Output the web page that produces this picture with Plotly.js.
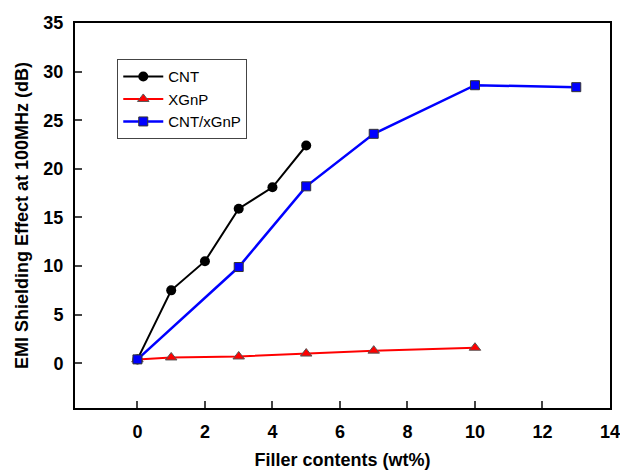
<!DOCTYPE html>
<html><head><meta charset="utf-8">
<script src="https://cdn.plot.ly/plotly-3.0.1.min.js"></script>
<style>html,body{margin:0;padding:0;background:#fff}</style>
</head><body><div id="chart" style="width:620px;height:470px"></div>
<script>
const cntX = [0, 1, 2, 3, 4, 5];
const cntY = [0.4, 7.5, 10.5, 15.9, 18.1, 22.4];
const xgnpX = [0, 1, 3, 5, 7, 10];
const xgnpY = [0.4, 0.6, 0.7, 1.0, 1.3, 1.6];
const hybX = [0, 3, 5, 7, 10, 13];
const hybY = [0.4, 9.9, 18.2, 23.6, 28.6, 28.4];
const xTicks = [0, 2, 4, 6, 8, 10, 12, 14];
const yTicks = [0, 5, 10, 15, 20, 25, 30, 35];

const traces = [
  {x: cntX, y: cntY, name: 'CNT', mode: 'lines+markers', line: {color: '#000', width: 2},
   marker: {symbol: 'circle', size: 10, color: '#000'}},
  {x: xgnpX, y: xgnpY, name: 'XGnP', mode: 'lines+markers', line: {color: '#ff0000', width: 2},
   marker: {symbol: 'triangle-up', size: 10, color: '#ff0000', line: {color: '#555', width: 1}}},
  {x: hybX, y: hybY, name: 'CNT/xGnP', mode: 'lines+markers', line: {color: '#0000ff', width: 2.5},
   marker: {symbol: 'square', size: 9, color: '#0000ff', line: {color: '#333', width: 1}}}
];
const fam = 'Liberation Sans, Arial, sans-serif';
const axisFont = {family: fam, size: 18, color: '#000', weight: 'bold'};
const titleFont = {family: fam, size: 18, color: '#000', weight: 'bold'};
const layout = {
  width: 620, height: 470,
  margin: {l: 75, r: 10, t: 23, b: 62},
  paper_bgcolor: '#fff', plot_bgcolor: '#fff',
  showlegend: true,
  legend: {x: 0.079, y: 0.906, xanchor: 'left', yanchor: 'top', bordercolor: '#444', borderwidth: 1,
    font: {family: fam, size: 15, color: '#000'}, bgcolor: '#fff',
    tracegroupgap: 0, itemwidth: 40},
  xaxis: {range: [-1.85, 14], tickvals: xTicks, ticktext: xTicks.map(String), ticks: 'inside', ticklen: 7, tickwidth: 2,
    showline: true, linewidth: 2, linecolor: '#000', mirror: true, showgrid: false, zeroline: false,
    tickfont: axisFont, ticklabelstandoff: 6, ticklabeloverflow: 'allow',
    title: {text: 'Filler contents (wt%)', font: titleFont, standoff: 14}},
  yaxis: {range: [-4.6, 35], tickvals: yTicks, ticktext: yTicks.map(String), ticks: 'inside', ticklen: 7, tickwidth: 2,
    showline: true, linewidth: 2, linecolor: '#000', mirror: true, showgrid: false, zeroline: false,
    tickfont: axisFont, ticklabelstandoff: 6, ticklabeloverflow: 'allow',
    title: {text: 'EMI Shielding Effect at 100MHz (dB)', font: titleFont, standoff: 10}}
};
Plotly.newPlot('chart', traces, layout, {displayModeBar: false});
</script></body></html>
